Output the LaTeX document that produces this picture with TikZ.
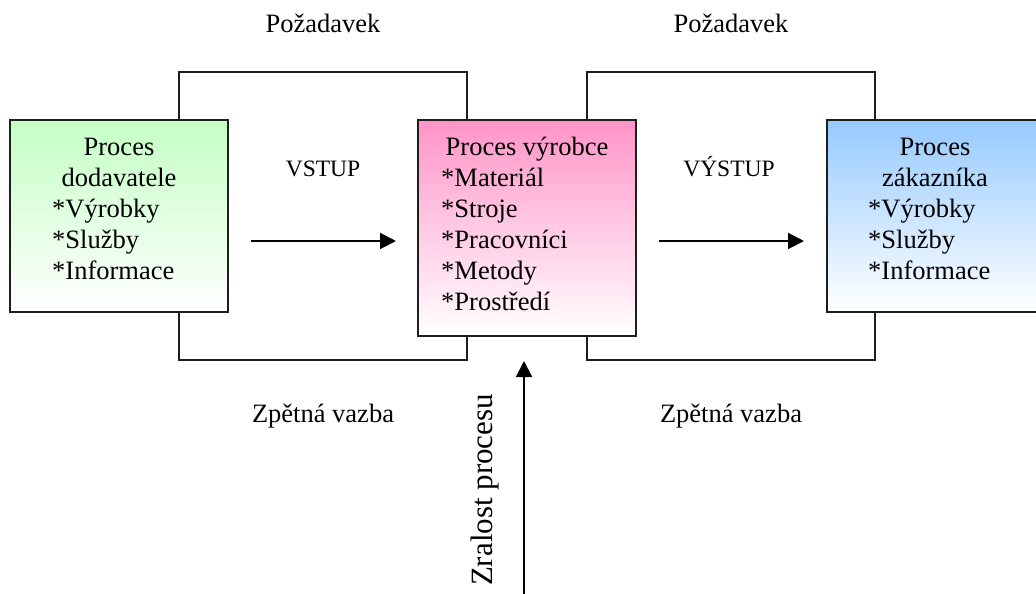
\documentclass[tikz,border=0pt]{standalone}
\usepackage{fontspec}
\setmainfont{Liberation Serif}
\usetikzlibrary{arrows.meta}
\definecolor{gtop}{RGB}{196,255,196}
\definecolor{ptop}{RGB}{255,148,200}
\definecolor{btop}{RGB}{150,202,255}
\definecolor{edge}{RGB}{30,30,30}
\tikzset{
  procbox/.style={draw=edge, line width=2pt, rectangle, inner sep=0pt, bottom color=white},
  loopline/.style={draw=edge, line width=1.8pt, line join=miter},
  flowarrow/.style={draw=black, line width=2pt, -{Triangle[length=16pt,width=16pt]}},
  boxtxt/.style={inner sep=0pt, font=\fontsize{26.5}{31}\selectfont},
  lbl/.style={inner sep=0pt, font=\fontsize{26.5}{31}\selectfont},
  caps/.style={inner sep=0pt, font=\fontsize{23.5}{28}\selectfont},
}
\begin{document}
\begin{tikzpicture}[x=1pt,y=-1pt]
\clip (0,0) rectangle (1036,594);
\fill[white] (0,0) rectangle (1036,594);
% boxes
\node[procbox, top color=gtop, minimum width=218pt, minimum height=192pt] (lbox) at (119,216) {};
\node[procbox, top color=ptop, minimum width=218pt, minimum height=216pt] (mbox) at (527,228) {};
\node[procbox, top color=btop, minimum width=218pt, minimum height=192pt] (rbox) at (936,216) {};
% loop corners
\coordinate (la) at (179,72);
\coordinate (lb) at (467,72);
\coordinate (lc) at (179,360);
\coordinate (ld) at (467,360);
\coordinate (ra) at (587,72);
\coordinate (rb) at (875,72);
\coordinate (rc) at (587,360);
\coordinate (rd) at (875,360);
\draw[loopline] (lbox.north -| la) -- (la) -- (lb) -- (mbox.north -| lb);
\draw[loopline] (lbox.south -| lc) -- (lc) -- (ld) -- (mbox.south -| ld);
\draw[loopline] (mbox.north -| ra) -- (ra) -- (rb) -- (rbox.north -| rb);
\draw[loopline] (mbox.south -| rc) -- (rc) -- (rd) -- (rbox.south -| rd);
% left box text
\node[boxtxt, anchor=base] (l1) at (119,155) {Proces};
\node[boxtxt, anchor=base] (l2) at (119,186) {dodavatele};
\node[boxtxt, anchor=base west] (l3) at (52,217) {*Výrobky};
\node[boxtxt, anchor=base west] (l4) at (52,248) {*Služby};
\node[boxtxt, anchor=base west] (l5) at (52,279) {*Informace};
% middle box text
\node[boxtxt, anchor=base] (m1) at (527,155) {Proces výrobce};
\node[boxtxt, anchor=base west] (m2) at (441,186) {*Materiál};
\node[boxtxt, anchor=base west] (m3) at (441,217) {*Stroje};
\node[boxtxt, anchor=base west] (m4) at (441,248) {*Pracovníci};
\node[boxtxt, anchor=base west] (m5) at (441,279) {*Metody};
\node[boxtxt, anchor=base west] (m6) at (441,310) {*Prostředí};
% right box text
\node[boxtxt, anchor=base] (r1) at (935,155) {Proces};
\node[boxtxt, anchor=base] (r2) at (935,186) {zákazníka};
\node[boxtxt, anchor=base west] (r3) at (868,217) {*Výrobky};
\node[boxtxt, anchor=base west] (r4) at (868,248) {*Služby};
\node[boxtxt, anchor=base west] (r5) at (868,279) {*Informace};
% labels
\node[lbl, anchor=base] (poz1) at (323,33) {Požadavek};
\node[lbl, anchor=base] (poz2) at (731,33) {Požadavek};
\node[lbl, anchor=base] (zv1) at (323,422) {Zpětná vazba};
\node[lbl, anchor=base] (zv2) at (731,422) {Zpětná vazba};
\node[caps, anchor=base] (vstup) at (323,176) {VSTUP};
\node[caps, anchor=base] (vystup) at (729,176) {VÝSTUP};
% arrows
\coordinate (a1s) at (251,241);
\coordinate (a1e) at (396,241);
\coordinate (a2s) at (659,241);
\coordinate (a2e) at (804,241);
\coordinate (a3s) at (524,600);
\coordinate (a3e) at (524,361);
\draw[flowarrow] (a1s) -- (a1e);
\draw[flowarrow] (a2s) -- (a2e);
\draw[flowarrow] (a3s) -- (a3e);
\node[inner sep=0pt, rotate=90, anchor=base, font=\fontsize{31}{36}\selectfont] (zral) at (492,490) {Zralost procesu};
\end{tikzpicture}
\end{document}
